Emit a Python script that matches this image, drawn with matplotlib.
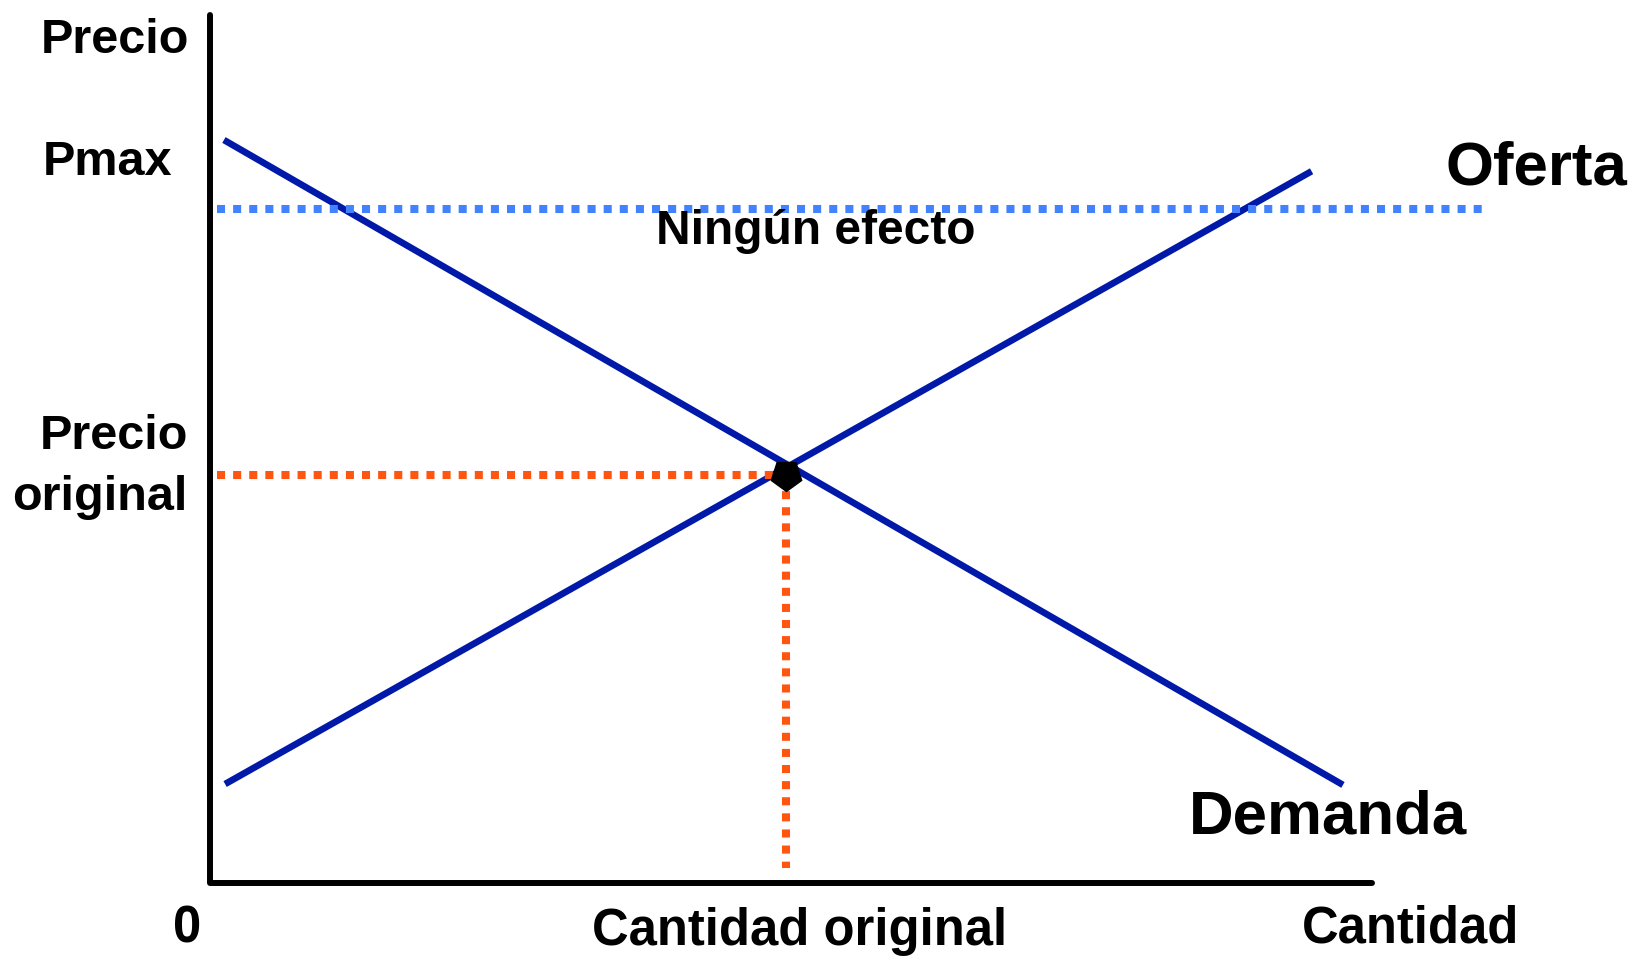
import matplotlib
matplotlib.use('Agg')
import matplotlib.pyplot as plt

plt.rcParams['font.family'] = ['Liberation Sans', 'DejaVu Sans']
plt.rcParams['font.weight'] = 'bold'

# curve end points (quantity, price), axes run 0..10
demand_q = [0.12, 9.75]
demand_p = [8.56, 1.13]
supply_q = [0.13, 9.48]
supply_p = [1.14, 8.20]

eq_q = 4.96
eq_p = 4.70
pmax = 7.76
pmax_q = [0.06, 11.0]

line_blue = '#0019A8'
dot_blue = '#4382FF'
dot_orange = '#FF5511'

fig = plt.figure(figsize=(16.43, 9.66), dpi=100)
ax = fig.add_axes([0, 0, 1, 1])
ax.set_xlim(-210 / 116.2, (1643 - 210) / 116.2)
ax.set_ylim(-(966 - 883) / 86.8, 883 / 86.8)
ax.axis('off')

# axes of the diagram
ax.plot([0, 0, 10], [10, 0, 0], color='black', lw=4.3,
        solid_capstyle='round', solid_joinstyle='round')

ax.plot(demand_q, demand_p, color=line_blue, lw=4.8, solid_capstyle='butt')
ax.plot(supply_q, supply_p, color=line_blue, lw=4.8, solid_capstyle='butt')

# price ceiling above equilibrium
ax.plot(pmax_q, [pmax, pmax], color=dot_blue, lw=5.8,
        dashes=(1, 1), dash_capstyle='butt', clip_on=False)

# equilibrium guides
ax.plot([0.06, eq_q], [eq_p, eq_p], color=dot_orange, lw=5.8,
        dashes=(1, 1), dash_capstyle='butt')
ax.plot([eq_q, eq_q], [eq_p, 0.17], color=dot_orange, lw=5.8,
        dashes=(1, 1), dash_capstyle='butt')
ax.plot([eq_q], [eq_p], marker=(5, 0, 180), ms=23, color='black', zorder=5)

small = 35
bottom = 36.5
big = 44.5
ax.text(-0.818, 9.56, 'Precio', fontsize=small, ha='center', va='baseline')
ax.text(-0.878, 8.16, 'Pmax', fontsize=small, ha='center', va='baseline')
ax.text(-0.19, 4.30, 'Precio\noriginal', fontsize=small, ha='right',
        va='baseline', multialignment='right', linespacing=1.45)
ax.text(10.63, 8.05, 'Oferta', fontsize=big, ha='left', va='baseline')
ax.text(8.42, 0.576, 'Demanda', fontsize=big, ha='left', va='baseline')
ax.text(5.21, 7.36, 'Ningún efecto', fontsize=34.5, ha='center', va='baseline')
ax.text(-0.2, -0.68, '0', fontsize=bottom, ha='center', va='baseline')
ax.text(5.07, -0.714, 'Cantidad original', fontsize=bottom, ha='center', va='baseline')
ax.text(10.33, -0.68, 'Cantidad', fontsize=bottom, ha='center', va='baseline')

fig.savefig('out.png', dpi=100)
